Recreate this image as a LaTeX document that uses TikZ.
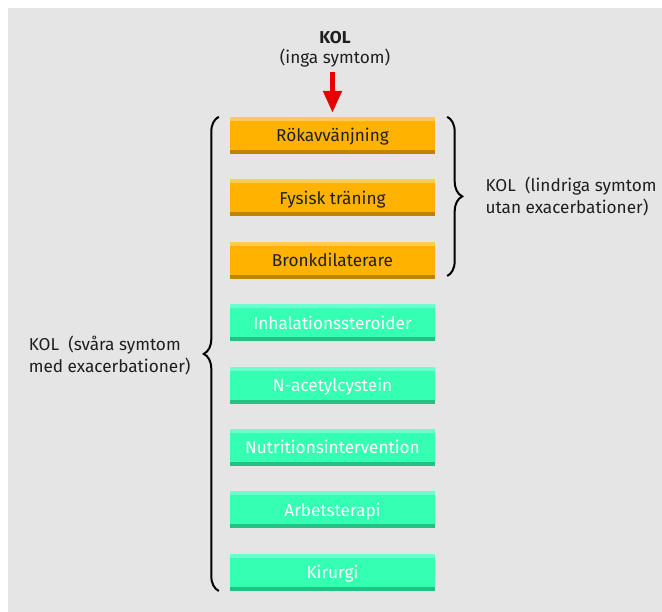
\documentclass[tikz,border=0pt]{standalone}
\usepackage{fontspec}
\setmainfont{Fira Sans}
\usetikzlibrary{positioning,arrows.meta,decorations.pathreplacing}
\definecolor{panelgray}{RGB}{229,229,229}
\definecolor{orgmain}{RGB}{255,178,0}
\definecolor{orgtop}{RGB}{255,202,80}
\definecolor{orgbot}{RGB}{190,132,0}
\definecolor{grnmain}{RGB}{52,255,178}
\definecolor{grntop}{RGB}{108,255,206}
\definecolor{grnbot}{RGB}{38,192,132}
\definecolor{arrowred}{RGB}{230,0,0}
\tikzset{
  band/.style 2 args = {path picture={
      \fill[#1] (path picture bounding box.north west) rectangle
                ([yshift=-4pt]path picture bounding box.north east);
      \fill[#2] (path picture bounding box.south west) rectangle
                ([yshift=4pt]path picture bounding box.south east);}},
  stepbox/.style  = {rectangle, minimum width=205pt, minimum height=37pt,
                     inner sep=0pt, text height=16pt, text depth=3pt,
                     font=\fontsize{17.2}{20}\selectfont},
  orgstep/.style  = {stepbox, fill=orgmain, text=black!88, band={orgtop}{orgbot}},
  grnstep/.style  = {stepbox, fill=grnmain, text=white,    band={grntop}{grnbot}},
  curly/.style    = {decorate, decoration={brace, amplitude=15pt},
                     line width=2pt, black},
  sidelbl/.style  = {align=left, font=\fontsize{17.2}{22}\selectfont, text=black!88},
  push/.style     = {-{Triangle[width=18pt,length=22pt]}, line width=5pt, arrowred}
}

\begin{document}
\begin{tikzpicture}[x=1pt, y=-1pt, node distance=25pt]
  \useasboundingbox (0,0) rectangle (662,612);
  \fill[panelgray] (8,8) rectangle (662,612);
  % Mild stage
  \node[orgstep] (rok) at (332.5,135.5) {Rökavvänjning};
  \node[orgstep, below=of rok] (fys) {Fysisk träning};
  \node[orgstep, below=of fys] (bro) {Bronkdilaterare};
  % Severe stage
  \node[grnstep, below=of bro] (inh) {Inhalationssteroider};
  \node[grnstep, below=of inh] (nac) {N-acetylcystein};
  \node[grnstep, below=of nac] (nut) {Nutritionsintervention};
  \node[grnstep, below=of nut] (arb) {Arbetsterapi};
  \node[grnstep, below=of arb] (kir) {Kirurgi};
  % Start
  \node[align=center, font=\fontsize{17.2}{19.5}\selectfont, text=black!88]
       (kol) at (335,49) {\textbf{KOL}\\(inga symtom)};
  \coordinate (start) at (rok.north |- 0,72);
  \draw[push, shorten >=4pt] (start) -- (rok.north);
  % Braces
  \draw[curly] ([xshift=12pt]rok.north east) -- node[sidelbl, anchor=west, xshift=34pt]
       (mild) {KOL\ \ (lindriga symtom\\utan exacerbationer)} ([xshift=12pt,yshift=3pt]bro.south east);
  \draw[curly] ([xshift=-11pt]kir.south west) -- node[sidelbl, anchor=east, xshift=-24pt, yshift=-2pt]
       (svar) {KOL\ \ (svåra symtom\\med exacerbationer)} ([xshift=-11pt]rok.north west);
\end{tikzpicture}
\end{document}
